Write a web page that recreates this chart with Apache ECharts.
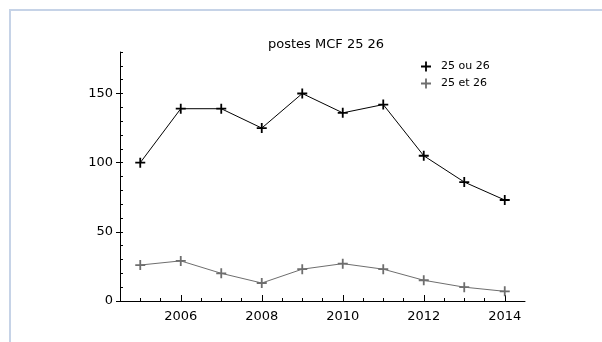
<!DOCTYPE html>
<html>
<head>
<meta charset="utf-8">
<script src="https://cdn.jsdelivr.net/npm/echarts@6/dist/echarts.min.js"></script>
<style>
  html, body { margin: 0; padding: 0; background: #fff; }
  #chart { width: 602px; height: 342px; }
</style>
</head>
<body>
<div id="chart"></div>
<script>
// Postes MCF sections 25 / 26, by year
const years = [2005, 2006, 2007, 2008, 2009, 2010, 2011, 2012, 2013, 2014];
const ouValues = [100, 139, 139, 125, 150, 136, 142, 105, 86, 73];   // 25 ou 26
const etValues = [26, 29, 20, 13, 23, 27, 23, 15, 10, 7];            // 25 et 26
const seriesNames = ['25 ou 26', '25 et 26'];
const xMajorTicks = [2006, 2008, 2010, 2012, 2014];
const xMinorTicks = [2005, 2005.5, 2006, 2006.5, 2007, 2007.5, 2008, 2008.5, 2009, 2009.5,
                     2010, 2010.5, 2011, 2011.5, 2012, 2012.5, 2013, 2013.5, 2014];
const yMajorTicks = [0, 50, 100, 150];
const yMinorTicks = [0, 10, 20, 30, 40, 50, 60, 70, 80, 90, 100, 110, 120, 130, 140, 150, 160, 170, 180];

const FONT = 'DejaVu Sans';
const plus = 'path://M-0.9,-5 H0.9 V-0.9 H5 V0.9 H0.9 V5 H-0.9 V0.9 H-5 V-0.9 H-0.9 Z';

const pairs = (xs, ys) => xs.map((x, i) => [x, ys[i]]);

const xBase = { type: 'value', min: 2004.5, max: 2014.5, gridIndex: 0, splitLine: { show: false } };
const yBase = { type: 'value', min: 0, max: 180, gridIndex: 0, splitLine: { show: false } };

const chart = echarts.init(document.getElementById('chart'), null, { renderer: 'canvas' });
chart.setOption({
  backgroundColor: '#ffffff',
  animation: false,
  title: {
    text: 'postes MCF 25 26',
    left: 263, top: 33,
    textStyle: { fontFamily: FONT, fontSize: 13, fontWeight: 'normal', color: '#000' }
  },
  legend: {
    orient: 'vertical', left: 416, top: 56, itemGap: 6,
    itemWidth: 10, itemHeight: 10,
    textStyle: { fontFamily: FONT, fontSize: 11, color: '#000', padding: [0, 0, 0, 5] },
    data: [
      { name: seriesNames[0], icon: plus, itemStyle: { color: '#000' } },
      { name: seriesNames[1], icon: plus, itemStyle: { color: '#6e6e6e' } }
    ]
  },
  grid: { left: 120, top: 52, width: 405, height: 249 },
  xAxis: [
    Object.assign({}, xBase, {
      axisLine: { show: true, lineStyle: { color: '#000', width: 1 } },
      axisTick: { show: true, inside: true, length: 3, customValues: xMinorTicks, lineStyle: { color: '#000' } },
      axisLabel: { show: false }
    }),
    Object.assign({}, xBase, {
      position: 'bottom',
      axisLine: { show: false },
      axisTick: { show: true, inside: true, length: 6, customValues: xMajorTicks, lineStyle: { color: '#000' } },
      axisLabel: { show: true, customValues: xMajorTicks, margin: 9, color: '#000',
                   fontFamily: FONT, fontSize: 13, formatter: v => String(v) }
    })
  ],
  yAxis: [
    Object.assign({}, yBase, {
      axisLine: { show: true, lineStyle: { color: '#000', width: 1 } },
      axisTick: { show: true, inside: true, length: 3, customValues: yMinorTicks, lineStyle: { color: '#000' } },
      axisLabel: { show: false }
    }),
    Object.assign({}, yBase, {
      position: 'left',
      axisLine: { show: false },
      axisTick: { show: true, inside: false, length: 4, customValues: yMajorTicks, lineStyle: { color: '#000' } },
      axisLabel: { show: true, customValues: yMajorTicks, margin: 7, color: '#000',
                   fontFamily: FONT, fontSize: 13 }
    })
  ],
  series: [
    {
      name: seriesNames[0], type: 'line', xAxisIndex: 0, yAxisIndex: 0,
      data: pairs(years, ouValues),
      symbol: plus, symbolSize: 10,
      lineStyle: { color: '#000', width: 1 },
      itemStyle: { color: '#000' }
    },
    {
      name: seriesNames[1], type: 'line', xAxisIndex: 0, yAxisIndex: 0,
      data: pairs(years, etValues),
      symbol: plus, symbolSize: 10,
      lineStyle: { color: '#6e6e6e', width: 1 },
      itemStyle: { color: '#6e6e6e' }
    }
  ],
  graphic: [
    // page frame around the plot panel
    { type: 'line', shape: { x1: 9, y1: 10, x2: 602, y2: 10 }, style: { stroke: '#c6d3e7', lineWidth: 2 } },
    { type: 'line', shape: { x1: 10, y1: 9, x2: 10, y2: 342 }, style: { stroke: '#c6d3e7', lineWidth: 2 } }
  ]
});
</script>
</body>
</html>
